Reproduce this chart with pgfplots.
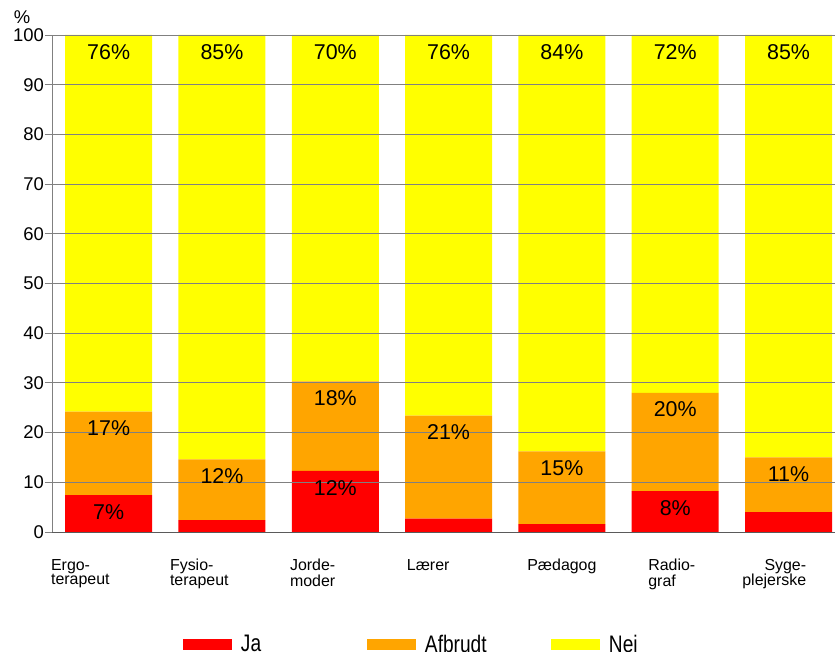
\documentclass[border=0pt]{standalone}
\usepackage{pgfplots}
\pgfplotsset{compat=1.18}
\usepackage{fontspec}
\setmainfont{Liberation Sans}
\newfontfamily\legfont[FakeStretch=0.8]{Liberation Sans}
\definecolor{cRed}{RGB}{255,0,0}
\definecolor{cOrange}{RGB}{255,165,0}
\definecolor{cYellow}{RGB}{255,255,0}
\definecolor{cGrid}{RGB}{128,128,128}
\definecolor{cAxis}{RGB}{90,90,90}
\pgfplotsset{
  swatch/.style={legend image code/.code={\fill[##1] (0bp,-5.5bp) rectangle (49bp,5.5bp);}},
}
\newcommand\lbl[2]{\begin{tabular}{@{}#1@{}}#2\end{tabular}}
\begin{document}
\begin{tikzpicture}
\path[use as bounding box] (0,0) rectangle (835bp,652bp);
\begin{axis}[
  at={(52bp,120bp)}, anchor=south west,
  scale only axis, width=783bp, height=497bp,
  xmin=-0.5, xmax=6.41, ymin=0, ymax=100,
  ybar stacked, bar width=87bp,
  axis on top,
  clip=false,
  axis x line*=bottom, axis y line*=left,
  x axis line style={-, draw=cAxis, line width=0.9bp},
  y axis line style={-, draw=cGrid, line width=0.9bp},
  ytick={0,10,...,100},
  ymajorgrids, grid style={draw=cGrid, line width=0.8bp},
  tick align=outside, major tick length=7bp,
  ytick style={draw=cGrid, line width=0.8bp},
  xtick style={draw=none},
  /pgf/number format/assume math mode=true,
  yticklabel style={font=\fontsize{18.5}{20}\selectfont, inner sep=1bp},
  xtick={-0.25,0.80,1.80,2.82,4.0,4.97,5.874},
  xticklabels={
    {\lbl{l}{Ergo-\\terapeut}},
    {\lbl{l}{Fysio-\\terapeut}},
    {\lbl{l}{Jorde-\\moder}},
    {Lærer},
    {Pædagog},
    {\lbl{l}{Radio-\\graf}},
    {\lbl{r}{Syge-\\plejerske}}},
  xticklabel style={font=\fontsize{16}{13.3}\selectfont, anchor=north, inner sep=0pt, yshift=-20bp},
  point meta=explicit symbolic,
  visualization depends on={rawy \as \segval},
  nodes near coords={\pgfplotspointmeta},
  nodes near coords style={anchor=center, yshift={\segval*2.4835bp-16.7bp}, font=\fontsize{21.5}{24}\selectfont, text=black},
  legend columns=3,
  legend style={at={(axis description cs:0.1673,-0.2264)}, anchor=west, draw=none, fill=none,
    inner sep=0pt, outer sep=0pt,
    font=\legfont\fontsize{24}{26}\selectfont,
    /tikz/every odd column/.append style={column sep=9bp},
    nodes={inner sep=0pt, anchor=west}},
]
\addplot[fill=cRed, draw=none, swatch] coordinates {
  (0,7.4)[7\%] (1,2.4)[{}] (2,12.3)[12\%] (3,2.7)[{}] (4,1.6)[{}] (5,8.2)[8\%] (6,4.0)[{}]};
\addlegendentry{\makebox[126bp][l]{Ja}}
\addplot[fill=cOrange, draw=none, swatch] coordinates {
  (0,16.8)[17\%] (1,12.2)[12\%] (2,18.0)[18\%] (3,20.7)[21\%] (4,14.6)[15\%] (5,19.8)[20\%] (6,11.0)[11\%]};
\addlegendentry{\makebox[126bp][l]{Afbrudt}}
\addplot[fill=cYellow, draw=none, swatch] coordinates {
  (0,75.8)[76\%] (1,85.4)[85\%] (2,69.7)[70\%] (3,76.6)[76\%] (4,83.8)[84\%] (5,72.0)[72\%] (6,85.0)[85\%]};
\addlegendentry{\makebox[126bp][l]{Nej}}
\end{axis}
\node[font=\fontsize{18.5}{20}\selectfont, inner sep=0pt] at (22bp,634.5bp) {\%};
\end{tikzpicture}
\end{document}
